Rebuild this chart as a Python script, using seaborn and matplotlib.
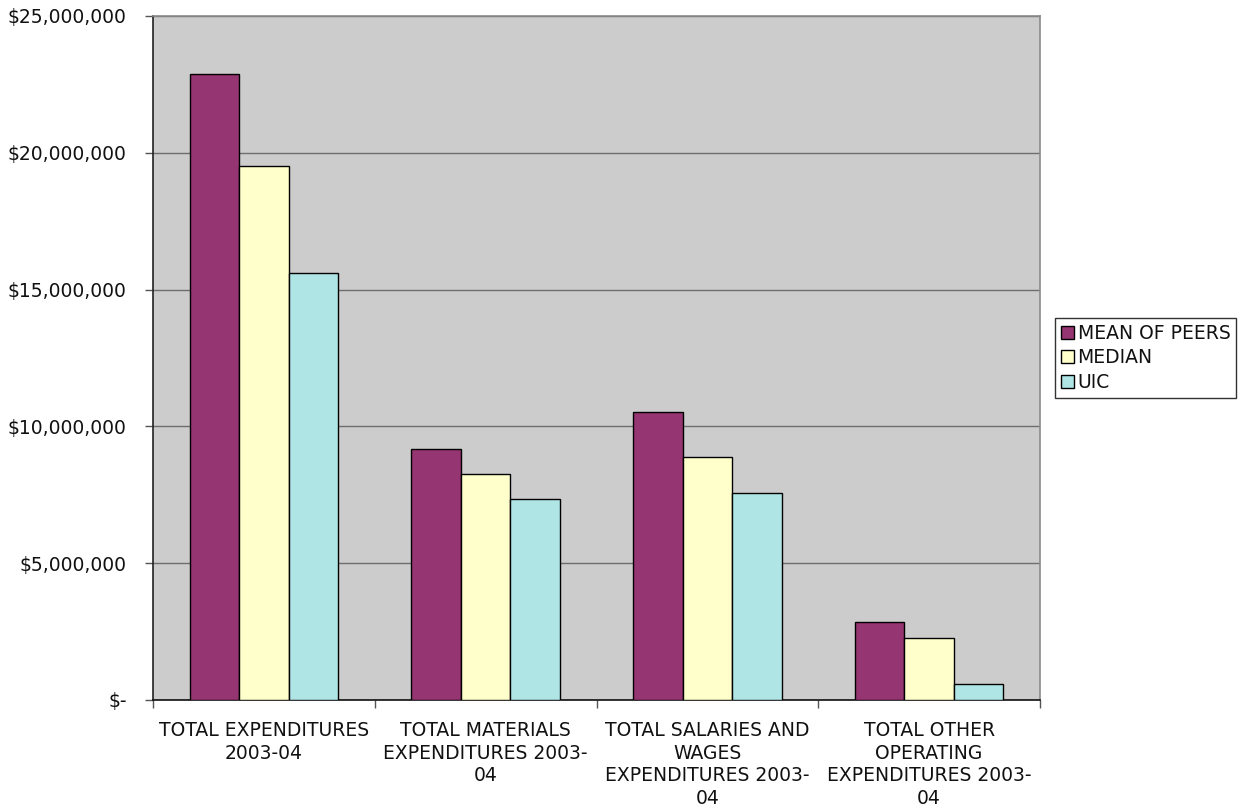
import matplotlib
matplotlib.use("Agg")
import matplotlib.pyplot as plt
import matplotlib.ticker as mticker
import seaborn as sns
import pandas as pd

categories = [
    "TOTAL EXPENDITURES\n2003-04",
    "TOTAL MATERIALS\nEXPENDITURES 2003-\n04",
    "TOTAL SALARIES AND\nWAGES\nEXPENDITURES 2003-\n04",
    "TOTAL OTHER\nOPERATING\nEXPENDITURES 2003-\n04",
]
series_names = ["MEAN OF PEERS", "MEDIAN", "UIC"]
mean_of_peers = [22_880_000, 9_170_000, 10_530_000, 2_850_000]
median = [19_520_000, 8_260_000, 8_880_000, 2_270_000]
uic = [15_600_000, 7_340_000, 7_570_000, 580_000]
colors = ["#953571", "#FFFFCC", "#B0E5E6"]

rows = []
for name, vals in zip(series_names, [mean_of_peers, median, uic]):
    for cat, v in zip(categories, vals):
        rows.append({"category": cat, "series": name, "value": v})
df = pd.DataFrame(rows)

sns.set_theme(style="white")
plt.rcParams["font.family"] = ["DejaVu Sans"]

FS = 13.5

fig = plt.figure(figsize=(12.48, 8.10), dpi=100)
ax = fig.add_axes([153 / 1248, 110 / 810, 887 / 1248, 684 / 810])
ax.set_facecolor("#CCCCCC")

sns.barplot(
    data=df, x="category", y="value", hue="series",
    order=categories, hue_order=series_names,
    palette=colors, saturation=1, edgecolor="black", linewidth=1.0,
    width=0.67, ax=ax, zorder=3, legend=True,
)

ax.set_xlim(-0.5, len(categories) - 0.5)
ax.set_ylim(0, 25_000_000)
ax.yaxis.set_major_locator(mticker.MultipleLocator(5_000_000))


def money(v, _):
    if v == 0:
        return "$-"
    return "${:,.0f}".format(v)


ax.yaxis.set_major_formatter(mticker.FuncFormatter(money))
ax.grid(axis="y", color="#6E6E6E", linewidth=1.0, zorder=1)
ax.set_axisbelow(True)

# tick marks sit on category boundaries, labels at category centres
ax.set_xticks([i - 0.5 for i in range(len(categories) + 1)])
ax.set_xticklabels([])
ax.set_xticks(range(len(categories)), minor=True)
ax.set_xticklabels(categories, minor=True, fontsize=FS, color="#111111",
                   linespacing=1.25)
ax.tick_params(axis="x", which="major", length=6, width=1, color="#555555",
               direction="out", bottom=True)
ax.tick_params(axis="x", which="minor", length=0, pad=15)
ax.tick_params(axis="y", length=6, width=1, color="#555555", direction="out",
               left=True, labelsize=FS, labelcolor="#111111", pad=13)

ax.set_xlabel("")
ax.set_ylabel("")

for side in ["top", "right"]:
    ax.spines[side].set_color("#8A8A8A")
    ax.spines[side].set_linewidth(1.2)
ax.spines["left"].set_color("#222222")
ax.spines["bottom"].set_color("#111111")
for side in ["left", "bottom"]:
    ax.spines[side].set_linewidth(1.2)

handles, labels = ax.get_legend_handles_labels()
ax.legend_.remove()
leg = fig.legend(
    handles, labels, loc="upper left",
    bbox_to_anchor=(1055 / 1248, 1 - 318 / 810), bbox_transform=fig.transFigure,
    borderaxespad=0, fancybox=False, frameon=True, edgecolor="black",
    fontsize=FS, handlelength=0.7, handleheight=0.7, handletextpad=0.2,
    labelspacing=0.3, borderpad=0.3,
)
leg.get_frame().set_linewidth(1.0)
for t in leg.get_texts():
    t.set_color("#111111")

fig.savefig("out.png", dpi=100, facecolor="white")
